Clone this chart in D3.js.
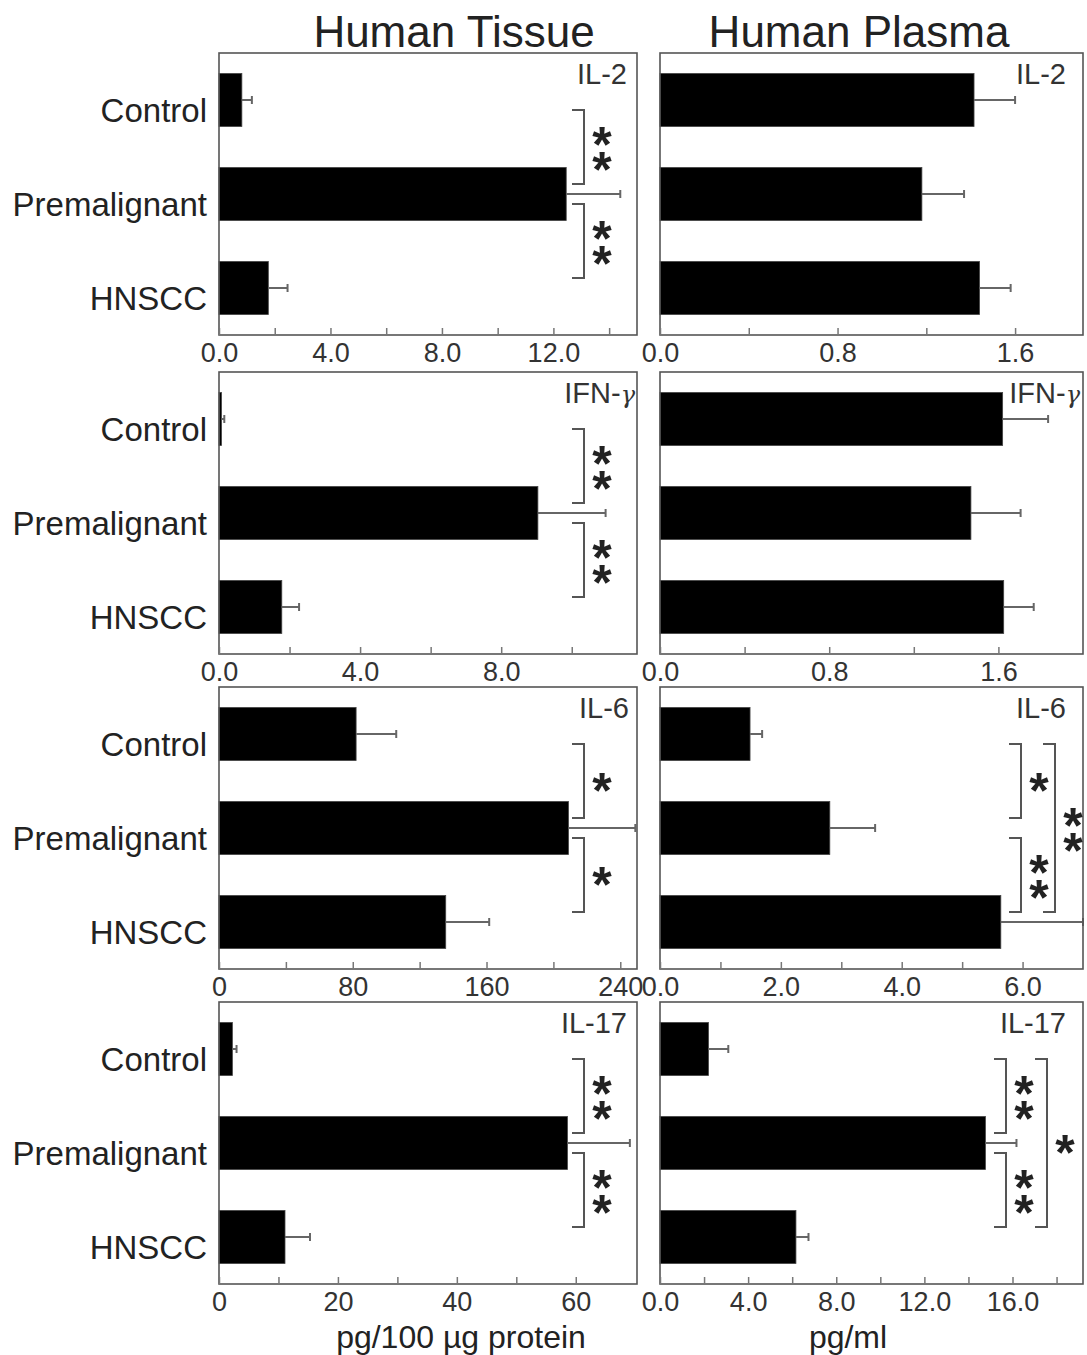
<!DOCTYPE html>
<html>
<head>
<meta charset="utf-8">
<script src="https://cdn.jsdelivr.net/npm/d3@7"></script>
<style>
  html, body { margin: 0; padding: 0; background: #fff; }
  svg { display: block; }
  text { font-family: "Liberation Sans", Arial, Helvetica, sans-serif; }
</style>
</head>
<body>
<svg id="chart" width="1087" height="1355"></svg>
<script>
// ---- data -------------------------------------------------------------
const categories = ["Control", "Premalignant", "HNSCC"];
const cytokines = ["IL-2", "IFN-γ", "IL-6", "IL-17"];
const sources = ["Human Tissue", "Human Plasma"];
const axisTitles = ["pg/100 µg protein", "pg/ml"];

// Tissue: pg/100 µg protein (mean, SEM)
const tissueMeans = [
  [0.82, 12.46, 1.77],
  [0.07, 9.04, 1.78],
  [82, 209, 135.6],
  [2.25, 58.6, 11.1]
];
const tissueErrors = [
  [0.36, 1.94, 0.69],
  [0.08, 1.92, 0.49],
  [24, 40, 26],
  [0.7, 10.5, 4.2]
];
// Plasma: pg/ml (mean, SEM)
const plasmaMeans = [
  [1.415, 1.18, 1.44],
  [1.62, 1.47, 1.625],
  [1.49, 2.81, 5.64],
  [2.2, 14.77, 6.17]
];
const plasmaErrors = [
  [0.185, 0.19, 0.14],
  [0.215, 0.235, 0.142],
  [0.2, 0.75, 1.36],
  [0.9, 1.41, 0.57]
];

// axis extents
const tissueMax = [15, 11.85, 250, 70.3];
const plasmaMax = [1.906, 2.0, 7.0, 19.2];

// labelled and unlabelled ticks
const tissueTickLabels = [
  ["0.0", "4.0", "8.0", "12.0"],
  ["0.0", "4.0", "8.0"],
  ["0", "80", "160", "240"],
  ["0", "20", "40", "60"]
];
const tissueMinorTicks = [[2, 6, 10, 14], [2, 6, 10], [40, 120, 200], [10, 30, 50]];
const plasmaTickLabels = [
  ["0.0", "0.8", "1.6"],
  ["0.0", "0.8", "1.6"],
  ["0.0", "2.0", "4.0", "6.0"],
  ["0.0", "4.0", "8.0", "12.0", "16.0"]
];
const plasmaMinorTicks = [[0.4, 1.2], [0.4, 1.2], [1, 3, 5], [2, 6, 10, 14, 18]];

// significance: [from category, to category, number of stars]
const tissueSig = [
  [[0, 1, 2], [1, 2, 2]],
  [[0, 1, 2], [1, 2, 2]],
  [[0, 1, 1], [1, 2, 1]],
  [[0, 1, 2], [1, 2, 2]]
];
const plasmaSig = [
  [],
  [],
  [[0, 1, 1], [1, 2, 2], [0, 2, 2]],
  [[0, 1, 2], [1, 2, 2], [0, 2, 1]]
];

// ---- layout -----------------------------------------------------------
const columns = [
  { left: 219, right: 637, titleX: 454 },
  { left: 660, right: 1083, titleX: 859 }
];
const rowTops = [53, 372, 687, 1002];
const rowH = 282;
// bracket offsets from the panel's right edge: [adjacent pairs, outer pair]
const bracketOffsets = [
  [[-53], [-53], [-53], [-53]],
  [[-60], [-60], [-62, -28], [-77, -36]]
];
const labelInset = [
  [10, 2, 8, 10],
  [17, 3, 17, 17]
];

const svg = d3.select("#chart");
const ink = "#222";

// column titles
sources.forEach((s, c) => {
  svg.append("text")
    .attr("x", columns[c].titleX).attr("y", 47)
    .attr("text-anchor", "middle")
    .attr("font-size", 44).attr("fill", ink)
    .text(s);
});

function drawPanel(c, r) {
  const means = c === 0 ? tissueMeans[r] : plasmaMeans[r];
  const errs = c === 0 ? tissueErrors[r] : plasmaErrors[r];
  const max = c === 0 ? tissueMax[r] : plasmaMax[r];
  const tickLabels = c === 0 ? tissueTickLabels[r] : plasmaTickLabels[r];
  const minor = c === 0 ? tissueMinorTicks[r] : plasmaMinorTicks[r];
  const sig = c === 0 ? tissueSig[r] : plasmaSig[r];
  const col = columns[c];
  const top = rowTops[r], bottom = top + rowH;

  const x = d3.scaleLinear().domain([0, max]).range([col.left, col.right]);
  const y = d3.scaleBand().domain(categories).range([top, bottom])
    .paddingInner(0.436).paddingOuter(0.218);
  const cy = i => y(categories[i]) + y.bandwidth() / 2;

  const g = svg.append("g");

  // bars
  g.selectAll("rect.bar").data(means).join("rect")
    .attr("class", "bar")
    .attr("x", x(0))
    .attr("y", (d, i) => y(categories[i]))
    .attr("width", d => x(d) - x(0))
    .attr("height", y.bandwidth())
    .attr("fill", "#000")
    .attr("stroke", "#444").attr("stroke-width", 0.8);

  // error bars (upper half)
  const eb = g.selectAll("g.err").data(means).join("g").attr("class", "err")
    .attr("stroke", "#666").attr("stroke-width", 2);
  eb.append("line")
    .attr("x1", d => x(d)).attr("x2", (d, i) => x(d + errs[i]))
    .attr("y1", (d, i) => cy(i)).attr("y2", (d, i) => cy(i));
  eb.append("line")
    .attr("x1", (d, i) => x(d + errs[i])).attr("x2", (d, i) => x(d + errs[i]))
    .attr("y1", (d, i) => cy(i) - 4).attr("y2", (d, i) => cy(i) + 4);

  // frame
  g.append("rect")
    .attr("x", col.left).attr("y", top)
    .attr("width", col.right - col.left).attr("height", rowH)
    .attr("fill", "none").attr("stroke", "#555").attr("stroke-width", 1.6);

  // x axis with inward ticks
  const labelled = tickLabels.map(Number);
  const axis = d3.axisBottom(x)
    .tickValues(labelled.concat(minor))
    .tickSize(-7).tickPadding(8)
    .tickFormat(v => {
      const k = labelled.indexOf(v);
      return k >= 0 ? tickLabels[k] : "";
    });
  const ag = g.append("g").attr("transform", `translate(0,${bottom})`).call(axis);
  ag.select(".domain").remove();
  ag.selectAll(".tick line").attr("stroke", "#777").attr("stroke-width", 1.5);
  ag.selectAll(".tick text")
    .attr("font-size", 27).attr("fill", "#333")
    .attr("font-family", "'Liberation Sans', Arial, sans-serif");

  // panel label
  const lbl = g.append("text")
    .attr("x", col.right - labelInset[c][r]).attr("y", top + 31)
    .attr("text-anchor", "end").attr("font-size", 29).attr("fill", "#333");
  const name = cytokines[r];
  if (name.includes("γ")) {
    lbl.append("tspan").text(name.replace("γ", ""));
    lbl.append("tspan").attr("font-family", "'DejaVu Serif', serif")
      .attr("font-size", 24).attr("font-style", "italic").text("γ");
  } else {
    lbl.text(name);
  }

  // category labels on the tissue column
  if (c === 0) {
    g.selectAll("text.cat").data(categories).join("text")
      .attr("class", "cat")
      .attr("x", 207)
      .attr("y", d => y(d) + y.bandwidth() / 2 + 10)
      .attr("dy", "0.35em")
      .attr("text-anchor", "end")
      .attr("font-size", 33).attr("fill", ink)
      .text(d => d);
  }

  // significance brackets; the stars of one comparison are a single
  // text node with one position per glyph so they stack vertically
  const inset = 10;
  sig.forEach(([a, b, n]) => {
    const level = b - a - 1;
    const bx = col.right + bracketOffsets[c][r][level];
    const y1 = cy(a) + inset, y2 = cy(b) - inset;
    g.append("path")
      .attr("d", `M${bx - 12},${y1}H${bx}V${y2}H${bx - 12}`)
      .attr("fill", "none").attr("stroke", "#555").attr("stroke-width", 2);
    const mid = (y1 + y2) / 2;
    const ys = d3.range(n).map(k => mid + (k - (n - 1) / 2) * 25 + 27);
    g.append("text")
      .attr("x", ys.map(() => bx + 18).join(" "))
      .attr("y", ys.join(" "))
      .attr("text-anchor", "middle")
      .attr("font-size", 50).attr("font-weight", "bold").attr("fill", ink)
      .text("*".repeat(n));
  });
}

for (let r = 0; r < cytokines.length; r++) {
  for (let c = 0; c < 2; c++) drawPanel(c, r);
}

// axis titles
axisTitles.forEach((t, c) => {
  svg.append("text")
    .attr("x", c === 0 ? 461 : 848).attr("y", 1348)
    .attr("text-anchor", "middle")
    .attr("font-size", 32).attr("fill", ink)
    .text(t);
});
</script>
</body>
</html>
